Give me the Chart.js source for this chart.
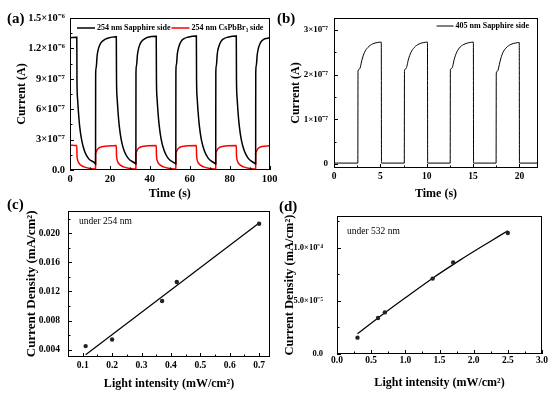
<!DOCTYPE html>
<html>
<head>
<meta charset="utf-8">
<script src="https://cdn.jsdelivr.net/npm/chart.js@4.4.0/dist/chart.umd.min.js"></script>
<style>
    body { margin: 0; background: #fff; }
    #fig { position: relative; width: 550px; height: 397px; overflow: hidden; background: #fff; }
    #fig canvas { position: absolute; }
    .tag { position: absolute; font: bold 15px/15px "Liberation Serif", serif; color: #000; }
</style>
</head>
<body>
<div id="fig">
    <canvas id="chartA" width="280" height="200" style="left:0;top:0"></canvas>
    <canvas id="chartB" width="270" height="200" style="left:280px;top:0"></canvas>
    <canvas id="chartC" width="280" height="200" style="left:0;top:197px"></canvas>
    <canvas id="chartD" width="270" height="200" style="left:280px;top:197px"></canvas>
    <div class="tag" style="left:7px;top:11px">(a)</div>
    <div class="tag" style="left:277px;top:11px">(b)</div>
    <div class="tag" style="left:7px;top:197px">(c)</div>
    <div class="tag" style="left:279px;top:199px">(d)</div>
</div>
<script>
        // ---- (a) 254 nm on/off response, current in units of 1e-7 A ----
        const timeA = [0, 3.3,
            3.4, 3.5, 3.8, 4.2, 4.9, 5.9, 7.4, 9.4, 12.7,
            12.8, 12.85, 13.1, 13.6, 14.3, 15.3, 16.8, 18.8, 23.1,
            23.2, 23.3, 23.6, 24.0, 24.7, 25.7, 27.2, 29.2, 32.9,
            33.0, 33.05, 33.3, 33.8, 34.5, 35.5, 37.0, 39.0, 43.1,
            43.2, 43.3, 43.6, 44.0, 44.7, 45.7, 47.2, 49.2, 52.9,
            53.0, 53.05, 53.3, 53.8, 54.5, 55.5, 57.0, 59.0, 63.2,
            63.3, 63.4, 63.7, 64.1, 64.8, 65.8, 67.3, 69.3, 72.9,
            73.0, 73.05, 73.3, 73.8, 74.5, 75.5, 77.0, 79.0, 83.2,
            83.3, 83.4, 83.7, 84.1, 84.8, 85.8, 87.3, 89.3, 92.9,
            93.0, 93.05, 93.3, 93.8, 94.5, 95.5, 97.0, 99.0, 100];
        const sapphireA = [13.05, 13.1,
            13.1, 8.8, 7.0, 5.8, 4.2, 2.9, 1.8, 1.1, 0.6,
            0.55, 9.4, 10.1, 11.3, 12.0, 12.5, 12.8, 13.0, 13.15,
            13.15, 8.9, 7.1, 5.9, 4.3, 2.95, 1.85, 1.15, 0.62,
            0.6, 9.6, 10.3, 11.4, 12.1, 12.6, 12.9, 13.1, 13.2,
            13.2, 8.9, 7.1, 5.9, 4.35, 3.0, 1.9, 1.15, 0.62,
            0.6, 9.7, 10.4, 11.5, 12.15, 12.65, 12.95, 13.1, 13.22,
            13.22, 8.9, 7.1, 5.9, 4.35, 3.0, 1.9, 1.15, 0.6,
            0.58, 9.6, 10.3, 11.5, 12.15, 12.65, 12.95, 13.1, 13.22,
            13.22, 8.9, 7.1, 5.9, 4.35, 3.0, 1.9, 1.15, 0.6,
            0.58, 9.6, 10.3, 11.4, 12.1, 12.6, 12.9, 13.0, 13.05];
        const cspbA = [2.45, 2.42,
            2.42, 1.5, 1.0, 0.78, 0.57, 0.42, 0.28, 0.18, 0.1,
            0.1, 1.6, 1.78, 2.0, 2.15, 2.25, 2.32, 2.37, 2.42,
            2.42, 1.5, 1.0, 0.78, 0.57, 0.42, 0.28, 0.18, 0.1,
            0.1, 1.62, 1.8, 2.02, 2.17, 2.27, 2.34, 2.39, 2.43,
            2.43, 1.5, 1.0, 0.78, 0.57, 0.42, 0.28, 0.18, 0.1,
            0.1, 1.62, 1.8, 2.02, 2.17, 2.27, 2.34, 2.39, 2.43,
            2.43, 1.5, 1.0, 0.78, 0.57, 0.42, 0.28, 0.18, 0.1,
            0.1, 1.62, 1.8, 2.02, 2.17, 2.27, 2.34, 2.39, 2.43,
            2.43, 1.5, 1.0, 0.78, 0.57, 0.42, 0.28, 0.18, 0.1,
            0.1, 1.62, 1.8, 2.02, 2.17, 2.27, 2.34, 2.38, 2.4];
        const xTicksA = [0, 20, 40, 60, 80, 100];
        const yTicksA = [0, 3, 6, 9, 12, 15];
        const yLabelsA = ['0.0', '3×10⁻⁷', '6×10⁻⁷', '9×10⁻⁷', '1.2×10⁻⁶', '1.5×10⁻⁶'];

        // ---- (b) 405 nm on/off response, units of 1e-7 A ----
        const timeB = [0, 2.57, 2.59, 2.72, 2.84, 3.0, 3.29, 3.65, 4.17, 4.67, 5.1, 5.12,
            7.58, 7.6, 7.73, 7.85, 8.01, 8.3, 8.66, 9.18, 9.68, 10.08, 10.1,
            12.53, 12.55, 12.68, 12.8, 12.96, 13.25, 13.61, 14.13, 14.63, 15.03, 15.05,
            17.48, 17.5, 17.63, 17.75, 17.91, 18.2, 18.56, 19.08, 19.58, 19.98, 20.0, 22];
        const sapphireB = [0.02, 0.02, 2.08, 2.12, 2.17, 2.32, 2.5, 2.61, 2.69, 2.72, 2.73, 0.02,
            0.02, 2.1, 2.13, 2.18, 2.33, 2.5, 2.61, 2.69, 2.72, 2.73, 0.02,
            0.02, 2.11, 2.14, 2.19, 2.34, 2.51, 2.62, 2.69, 2.72, 2.73, 0.02,
            0.02, 2.04, 2.08, 2.15, 2.3, 2.49, 2.6, 2.68, 2.71, 2.72, 0.02, 0.02];
        const xTicksB = [0, 5, 10, 15, 20];
        const xLabelsB = ['0', '5', '10', '15', '20'];
        const yTicksB = [0, 1, 2, 3];
        const yLabelsB = ['0', '1×10⁻⁷', '2×10⁻⁷', '3×10⁻⁷'];

        // ---- (c) 254 nm, density vs intensity ----
        const intensityC = [0.11, 0.2, 0.37, 0.42, 0.7];
        const densityC = [0.0045, 0.0054, 0.0107, 0.0133, 0.0213];
        const fitXC = [0.11, 0.7];
        const fitYC = [0.0033, 0.0214];
        const xTicksC = [0.1, 0.2, 0.3, 0.4, 0.5, 0.6, 0.7];
        const xLabelsC = ['0.1', '0.2', '0.3', '0.4', '0.5', '0.6', '0.7'];
        const yTicksC = [0.004, 0.008, 0.012, 0.016, 0.020];
        const yLabelsC = ['0.004', '0.008', '0.012', '0.016', '0.020'];

        // ---- (d) 532 nm, density in units of 1e-5 mA/cm2 ----
        const intensityD = [0.3, 0.6, 0.7, 1.4, 1.7, 2.5];
        const densityD = [1.54, 3.4, 3.92, 7.11, 8.63, 11.4];
        const fitXD = [0.3, 0.6, 1.0, 1.4, 1.8, 2.2, 2.5];
        const fitYD = [1.91, 3.4, 5.3, 7.15, 8.85, 10.45, 11.62];
        const xTicksD = [0, 0.5, 1.0, 1.5, 2.0, 2.5, 3.0];
        const xLabelsD = ['0.0', '0.5', '1.0', '1.5', '2.0', '2.5', '3.0'];
        const yTicksD = [0, 5, 10];
        const yLabelsD = ['0.0', '5.0×10⁻⁵', '1.0×10⁻⁴'];

        const SERIF = '"Liberation Serif", "Times New Roman", serif';
        Chart.defaults.font.family = SERIF;
        Chart.defaults.color = '#000';

        const pairs = (xs, ys) => xs.map((x, i) => ({ x: x, y: ys[i] }));

        // frame, inward ticks, legend and notes
        const decor = {
            id: 'decor',
            afterDatasetsDraw(chart, args, o) {
                const { ctx, chartArea: a } = chart;
                ctx.save();
                ctx.strokeStyle = '#000';
                ctx.lineWidth = 1;
                ctx.strokeRect(Math.round(a.left) + 0.5, Math.round(a.top) + 0.5,
                    Math.round(a.width) - 1, Math.round(a.height) - 1);

                ['x', 'y'].forEach(id => {
                    const s = chart.scales[id];
                    const vals = s.ticks.map(t => t.value);
                    const step = vals[1] - vals[0];
                    const minor = [];
                    for (let i = 0; i < vals.length - 1; i++) minor.push((vals[i] + vals[i + 1]) / 2);
                    if (vals[0] - step / 2 > s.min) minor.push(vals[0] - step / 2);
                    if (vals[vals.length - 1] + step / 2 < s.max) minor.push(vals[vals.length - 1] + step / 2);
                    const mark = (v, len) => {
                        const p = Math.round(s.getPixelForValue(v)) + 0.5;
                        ctx.beginPath();
                        if (id === 'x') { ctx.moveTo(p, a.bottom); ctx.lineTo(p, a.bottom - len); }
                        else { ctx.moveTo(a.left, p); ctx.lineTo(a.left + len, p); }
                        ctx.stroke();
                    };
                    vals.forEach(v => mark(v, 4));
                    minor.forEach(v => mark(v, 2.5));
                });

                if (o.legend) {
                    const L = o.legend;
                    ctx.font = 'bold 8px ' + SERIF;
                    ctx.textBaseline = 'middle';
                    ctx.textAlign = 'left';
                    const items = chart.data.datasets.filter(d => d.label);
                    let x = a.left + L.dx;
                    if (L.align === 'right') {
                        let w = 0;
                        items.forEach(d => { w += L.line + 2 + ctx.measureText(d.label).width + 1; });
                        x = a.right - L.dx - w;
                    }
                    const y = a.top + L.dy;
                    items.forEach(d => {
                        ctx.strokeStyle = d.borderColor;
                        ctx.lineWidth = d.borderWidth;
                        ctx.beginPath();
                        ctx.moveTo(x, y);
                        ctx.lineTo(x + L.line, y);
                        ctx.stroke();
                        x += L.line + 2;
                        ctx.fillStyle = '#000';
                        ctx.fillText(d.label, x, y);
                        x += ctx.measureText(d.label).width + 1;
                    });
                }
                if (o.note) {
                    ctx.font = '9.5px ' + SERIF;
                    ctx.fillStyle = '#000';
                    ctx.textBaseline = 'middle';
                    ctx.textAlign = 'left';
                    ctx.fillText(o.note.text, a.left + o.note.dx, a.top + o.note.dy);
                }
                ctx.restore();
            }
        };
        Chart.register(decor);

        function axis(c) {
            return {
                type: 'linear',
                min: c.min,
                max: c.max,
                grid: { display: false, drawTicks: false },
                border: { display: false },
                afterBuildTicks: s => { s.ticks = c.ticks.map(v => ({ value: v })); },
                afterFit: s => {
                    if (c.width) s.width = c.width;
                    if (c.height) s.height = c.height;
                },
                ticks: {
                    autoSkip: false,
                    maxRotation: 0,
                    padding: c.pad,
                    color: '#000',
                    font: { size: c.tickSize, weight: 'bold' },
                    callback: (v, i) => c.labels[i]
                },
                title: {
                    display: true,
                    text: c.title,
                    color: '#000',
                    font: { size: c.titleSize || 12, weight: 'bold', lineHeight: 1 },
                    padding: c.titlePad
                }
            };
        }

        const baseOptions = (padding, x, y, decorOpts) => ({
            responsive: false,
            animation: false,
            layout: { padding: padding },
            plugins: { legend: { display: false }, tooltip: { enabled: false }, decor: decorOpts },
            scales: { x: x, y: y }
        });

        // Panel (a)
        new Chart(document.getElementById('chartA').getContext('2d'), {
            type: 'line',
            data: {
                datasets: [{
                    label: '254 nm Sapphire side',
                    data: pairs(timeA, sapphireA),
                    borderColor: '#000',
                    borderWidth: 1.5,
                    pointRadius: 0,
                    cubicInterpolationMode: 'monotone'
                }, {
                    label: '254 nm CsPbBr₃ side',
                    data: pairs(timeA, cspbA),
                    borderColor: '#ff0000',
                    borderWidth: 1.5,
                    pointRadius: 0,
                    cubicInterpolationMode: 'monotone'
                }]
            },
            options: baseOptions({ top: 18, right: 4, left: 0, bottom: 0 },
                axis({ min: 0, max: 100, ticks: xTicksA, labels: xTicksA.map(String), height: 30,
                    pad: 2.5, tickSize: 10.5, title: 'Time (s)', titlePad: { top: 0, bottom: 0 } }),
                axis({ min: 0, max: 15, ticks: yTicksA, labels: yLabelsA, width: 70,
                    pad: 5, tickSize: 10.5, title: 'Current (A)', titlePad: { top: 16, bottom: 0 } }),
                { legend: { dx: 7, dy: 10, line: 18, align: 'left' } })
        });

        // Panel (b)
        new Chart(document.getElementById('chartB').getContext('2d'), {
            type: 'line',
            data: {
                datasets: [{
                    label: '405 nm Sapphire side',
                    data: pairs(timeB, sapphireB),
                    borderColor: '#000',
                    borderWidth: 1,
                    pointRadius: 0,
                    cubicInterpolationMode: 'monotone'
                }]
            },
            options: baseOptions({ top: 18, right: 12, left: 0, bottom: 0 },
                axis({ min: 0, max: 22, ticks: xTicksB, labels: xLabelsB, height: 32,
                    pad: 2.5, tickSize: 9.5, title: 'Time (s)', titlePad: { top: 0, bottom: 0 } }),
                axis({ min: -0.09, max: 3.27, ticks: yTicksB, labels: yLabelsB, width: 54,
                    pad: 6, tickSize: 9, title: 'Current (A)', titlePad: { top: 10, bottom: 0 } }),
                { legend: { dx: 8, dy: 8, line: 17, align: 'right' } })
        });

        // Panel (c)
        new Chart(document.getElementById('chartC').getContext('2d'), {
            type: 'scatter',
            data: {
                datasets: [{
                    data: pairs(intensityC, densityC),
                    pointRadius: 2.2,
                    pointBackgroundColor: '#222',
                    pointBorderColor: '#222',
                    pointBorderWidth: 0
                }, {
                    data: pairs(fitXC, fitYC),
                    showLine: true,
                    borderColor: '#000',
                    borderWidth: 1.2,
                    pointRadius: 0
                }]
            },
            options: baseOptions({ top: 7, right: 10, left: 0, bottom: 0 },
                axis({ min: 0.05, max: 0.737, ticks: xTicksC, labels: xLabelsC, height: 40,
                    pad: 2.5, tickSize: 9.5, title: 'Light intensity (mW/cm²)', titlePad: { top: 0, bottom: 7 } }),
                axis({ min: 0.003, max: 0.0231, ticks: yTicksC, labels: yLabelsC, width: 68,
                    pad: 8, tickSize: 9.5, titleSize: 13, title: 'Current Density (mA/cm²)', titlePad: { top: 25, bottom: 0 } }),
                { note: { text: 'under 254 nm', dx: 11, dy: 11 } })
        });

        // Panel (d)
        new Chart(document.getElementById('chartD').getContext('2d'), {
            type: 'scatter',
            data: {
                datasets: [{
                    data: pairs(intensityD, densityD),
                    pointRadius: 2.2,
                    pointBackgroundColor: '#222',
                    pointBorderColor: '#222',
                    pointBorderWidth: 0
                }, {
                    data: pairs(fitXD, fitYD),
                    showLine: true,
                    borderColor: '#000',
                    borderWidth: 1.2,
                    pointRadius: 0,
                    cubicInterpolationMode: 'monotone'
                }]
            },
            options: baseOptions({ top: 5, right: 8, left: 0, bottom: 0 },
                axis({ min: 0, max: 3.0, ticks: xTicksD, labels: xLabelsD, height: 43,
                    pad: 0.5, tickSize: 9.5, title: 'Light intensity (mW/cm²)', titlePad: { top: 0, bottom: 8 } }),
                axis({ min: 0, max: 13, ticks: yTicksD, labels: yLabelsD, width: 57,
                    pad: 14, tickSize: 8.5, titleSize: 12.5, title: 'Current Density (mA/cm²)', titlePad: { top: 3.5, bottom: 0 } }),
                { note: { text: 'under 532 nm', dx: 10, dy: 15.5 } })
        });
</script>
</body>
</html>
